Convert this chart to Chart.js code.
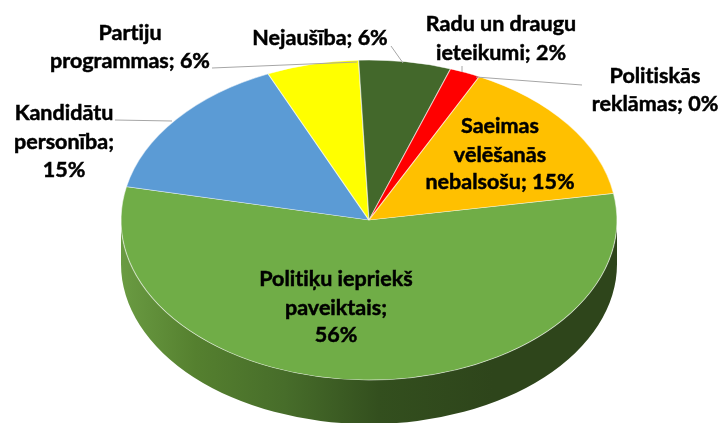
<!DOCTYPE html>
<html>
<head>
<meta charset="utf-8">
<title>Pie</title>
<script src="https://cdn.jsdelivr.net/npm/chart.js@4"></script>
<style>
    html, body { margin: 0; padding: 0; background: #fff; }
    canvas { display: block; }
</style>
</head>
<body>
<canvas id="chart" width="718" height="423"></canvas>
<script>
const categories = ['Politiķu iepriekš paveiktais', 'Kandidātu personība', 'Partiju programmas', 'Nejaušība', 'Radu un draugu ieteikumi', 'Saeimas vēlēšanās nebalsošu', 'Politiskās reklāmas'];
const shares = [56, 15, 6, 6, 2, 15, 0];
const sliceColors = ['#70ad47', '#5b9bd5', '#ffff00', '#43682b', '#ff0000', '#ffc000', '#264478'];

// how each label breaks into lines
const labelLines = [
    ['Politiķu iepriekš', 'paveiktais;', '56%'],
    ['Kandidātu', 'personība;', '15%'],
    ['Partiju', 'programmas; 6%'],
    ['Nejaušība; 6%'],
    ['Radu un draugu', 'ieteikumi; 2%'],
    ['Saeimas', 'vēlēšanās', 'nebalsošu; 15%'],
    ['Politiskās', 'reklāmas; 0%']
];

// label placement: centre x and baseline of each line
const labelSpots = [
    { x: 336, y: [286, 315, 342] },
    { x: 64, y: [120, 149, 177] },
    { x: 130, y: [40, 68] },
    { x: 320, y: [45] },
    { x: 501, y: [31, 60] },
    { x: 500, y: [133, 162, 189] },
    { x: 655, y: [83, 111] }
];

// leader lines from label to slice
const leaders = [
    [[115, 120], [172, 121]],
    [[212, 68], [357, 62]],
    [[391, 46], [403, 63]],
    [[462, 66], [462, 72]],
    [[582, 85], [476, 77]]
];

// the flattened pie
const pie = { cx: 369, cy: 220, rx: 248, ry: 160, depth: 44 };

const tiltPlugin = {
    id: 'tilt',
    beforeDatasetsDraw(chart) {
        const ctx = chart.ctx;
        const arc = chart.getDatasetMeta(0).data[0];

        // side wall, front half only
        const wall = ctx.createLinearGradient(pie.cx - pie.rx, 0, pie.cx + pie.rx, 0);
        wall.addColorStop(0, '#6a9b42');
        wall.addColorStop(0.15, '#55802f');
        wall.addColorStop(0.33, '#476d2a');
        wall.addColorStop(0.52, '#334f1e');
        wall.addColorStop(0.75, '#2e451b');
        wall.addColorStop(1, '#2e451b');
        ctx.save();
        ctx.beginPath();
        ctx.ellipse(pie.cx, pie.cy + pie.depth, pie.rx, pie.ry, 0, 0, Math.PI);
        ctx.ellipse(pie.cx, pie.cy, pie.rx, pie.ry, 0, Math.PI, 0, true);
        ctx.closePath();
        ctx.fillStyle = wall;
        ctx.fill();
        ctx.restore();

        // squash the round pie into the ellipse
        ctx.save();
        ctx.translate(pie.cx, pie.cy);
        ctx.scale(pie.rx / arc.outerRadius, pie.ry / arc.outerRadius);
        ctx.translate(-arc.x, -arc.y);
    },
    afterDatasetsDraw(chart) {
        chart.ctx.restore();
    }
};

const labelPlugin = {
    id: 'sliceLabels',
    afterDraw(chart) {
        const ctx = chart.ctx;
        ctx.save();

        ctx.strokeStyle = '#a6a6a6';
        ctx.lineWidth = 1;
        leaders.forEach(line => {
            ctx.beginPath();
            ctx.moveTo(line[0][0], line[0][1]);
            ctx.lineTo(line[1][0], line[1][1]);
            ctx.stroke();
        });

        ctx.fillStyle = '#000';
        ctx.strokeStyle = '#000';
        ctx.lineWidth = 0.5;
        ctx.font = 'bold 21.5px Lato';
        ctx.letterSpacing = '0.01px'; // stops the "ti" ligature
        ctx.textAlign = 'center';
        labelLines.forEach((lines, i) => {
            lines.forEach((text, j) => {
                ctx.fillText(text, labelSpots[i].x, labelSpots[i].y[j]);
                ctx.strokeText(text, labelSpots[i].x, labelSpots[i].y[j]);
            });
        });
        ctx.restore();
    }
};

new Chart(document.querySelector('#chart').getContext('2d'), {
    type: 'pie',
    data: {
        labels: categories,
        datasets: [{
            data: shares,
            backgroundColor: sliceColors,
            borderColor: 'rgba(255, 255, 255, 0.55)',
            borderWidth: 1
        }]
    },
    options: {
        responsive: false,
        animation: false,
        rotation: 80.4,
        plugins: {
            legend: { display: false },
            tooltip: { enabled: false }
        }
    },
    plugins: [tiltPlugin, labelPlugin]
});
</script>
</body>
</html>
